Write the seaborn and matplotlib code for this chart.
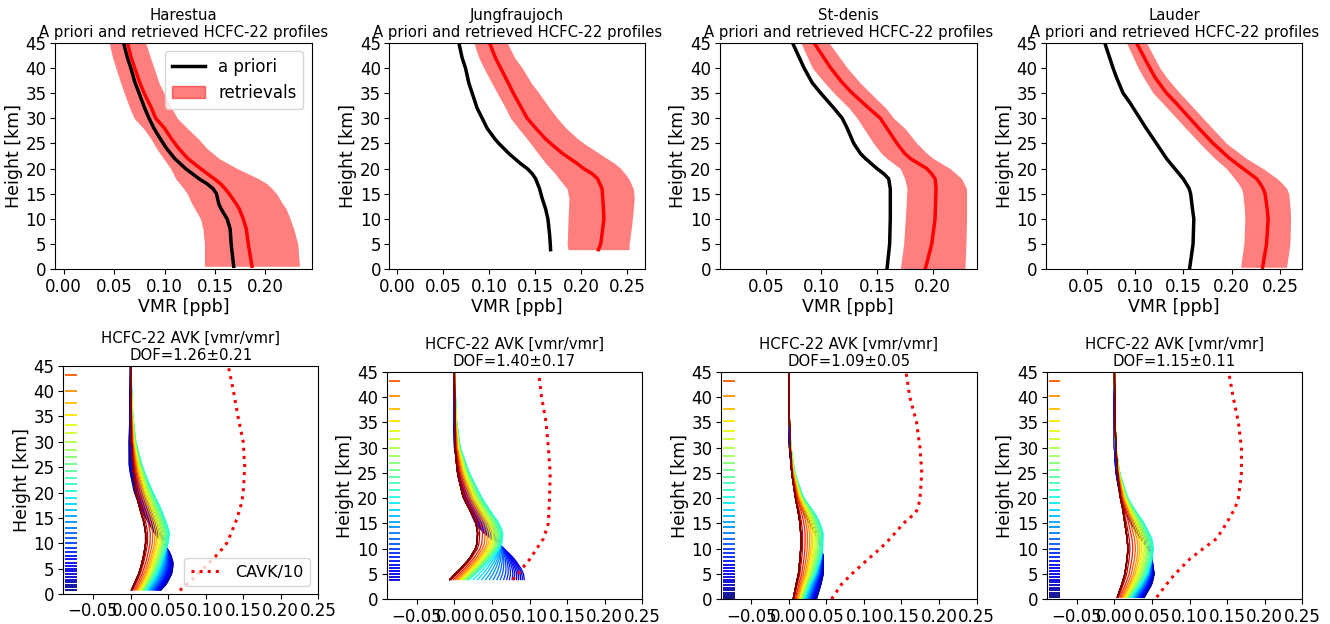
import numpy as np
import pandas as pd
import matplotlib
matplotlib.use("Agg")
import matplotlib.pyplot as plt
from matplotlib.patches import Patch
from matplotlib.lines import Line2D
from matplotlib.ticker import MultipleLocator, FuncFormatter
import seaborn as sns

plt.rcParams["font.family"] = ["DejaVu Sans"]
plt.rcParams["font.size"] = 12
plt.rcParams["xtick.major.pad"] = 2.5
plt.rcParams["ytick.major.pad"] = 2.5

stations = ["Harestua", "Jungfraujoch", "St-denis", "Lauder"]
dof_text = ["DOF=1.26\u00b10.21", "DOF=1.40\u00b10.17", "DOF=1.09\u00b10.05", "DOF=1.15\u00b10.11"]

# ---- top row: a priori / retrieved profiles (ppb) ----
harestua_z = [0.6, 5, 8, 10, 12, 13, 15, 16, 17, 18, 20, 22, 24, 26, 28, 30, 32, 35, 37, 40, 42, 45]
harestua_apriori = [0.1685, 0.166, 0.165, 0.162, 0.156, 0.1537, 0.1514, 0.148, 0.142, 0.134, 0.1208, 0.110,
                    0.102, 0.0955, 0.0895, 0.0846, 0.0803, 0.0747, 0.0708, 0.0665, 0.0632, 0.0593]
harestua_retr = [0.1866, 0.183, 0.181, 0.178, 0.174, 0.171, 0.164, 0.160, 0.1553, 0.149, 0.1356, 0.123,
                 0.114, 0.1065, 0.1000, 0.0912, 0.0870, 0.0797, 0.0755, 0.0704, 0.0670, 0.0632]
harestua_lo = [0.1395, 0.1395, 0.138, 0.1356, 0.130, 0.127, 0.1225, 0.119, 0.115, 0.111, 0.106, 0.099,
               0.092, 0.0862, 0.0790, 0.0698, 0.0655, 0.060, 0.0565, 0.0517, 0.0485, 0.045]
harestua_hi = [0.2337, 0.232, 0.228, 0.2245, 0.2205, 0.217, 0.211, 0.2065, 0.2014, 0.193, 0.172, 0.154,
               0.142, 0.133, 0.1225, 0.1126, 0.107, 0.0994, 0.0945, 0.0895, 0.0860, 0.0813]

jungfrau_z = [3.9, 5, 7, 10, 12, 14, 16, 18, 19, 20, 21, 23, 25, 26, 28, 30, 32, 35, 37, 40, 42, 45]
jungfrau_apriori = [0.167, 0.1667, 0.1659, 0.1641, 0.1616, 0.158, 0.155, 0.1507, 0.147, 0.1416, 0.1343, 0.1216,
                    0.1107, 0.106, 0.098, 0.0926, 0.0871, 0.0817, 0.0781, 0.0744, 0.0708, 0.0672]
jungfrau_retr = [0.219, 0.2215, 0.223, 0.225, 0.2245, 0.2238, 0.223, 0.218, 0.212, 0.2030, 0.196, 0.180,
                 0.167, 0.161, 0.151, 0.1416, 0.1355, 0.1264, 0.1210, 0.1126, 0.1070, 0.1006]
jungfrau_lo = [0.186, 0.185, 0.1855, 0.186, 0.1865, 0.187, 0.185, 0.176, 0.172, 0.167, 0.162, 0.1535,
               0.1452, 0.141, 0.132, 0.1235, 0.1180, 0.109, 0.103, 0.0944, 0.0890, 0.0835]
jungfrau_hi = [0.2524, 0.2524, 0.254, 0.256, 0.257, 0.258, 0.257, 0.252, 0.248, 0.2433, 0.237, 0.220,
               0.2033, 0.196, 0.184, 0.1743, 0.1660, 0.1543, 0.146, 0.136, 0.128, 0.1198]

stdenis_z = [0, 5, 10, 16, 18, 19, 20, 22, 23, 25, 28, 30, 32, 35, 37, 40, 45]
stdenis_apriori = [0.159, 0.1614, 0.162, 0.162, 0.1605, 0.156, 0.150, 0.1396, 0.1351, 0.1291, 0.1232, 0.1187, 0.1112, 0.0993, 0.0918, 0.0843, 0.0739]
stdenis_retr = [0.1934, 0.1993, 0.2023, 0.2032, 0.2023, 0.1990, 0.1949, 0.180, 0.175, 0.168, 0.159, 0.153, 0.1426, 0.1277, 0.119, 0.1082, 0.0933]
stdenis_lo = [0.171, 0.174, 0.1755, 0.177, 0.175, 0.173, 0.171, 0.159, 0.154, 0.147, 0.138, 0.1321, 0.125, 0.1112, 0.103, 0.0918, 0.0814]
stdenis_hi = [0.2292, 0.2301, 0.2307, 0.2307, 0.2262, 0.221, 0.2158, 0.2008, 0.195, 0.186, 0.175, 0.165, 0.158, 0.1441, 0.135, 0.1232, 0.1067]

lauder_z = [0.4, 5, 10, 12, 15, 16, 17, 18, 20, 22, 25, 28, 30, 33, 35, 38, 40, 45]
lauder_apriori = [0.1566, 0.16, 0.1608, 0.1594, 0.1575, 0.156, 0.153, 0.1497, 0.1411, 0.1325, 0.1221, 0.1115,
                  0.1049, 0.0950, 0.0876, 0.0810, 0.0772, 0.0686]
lauder_retr = [0.2319, 0.236, 0.2377, 0.2367, 0.2345, 0.2325, 0.2295, 0.2257, 0.2118, 0.198, 0.1808, 0.1660,
               0.1566, 0.1425, 0.1325, 0.1210, 0.1152, 0.1014]
lauder_lo = [0.2091, 0.2125, 0.2136, 0.2130, 0.2115, 0.210, 0.207, 0.203, 0.1946, 0.1825, 0.167, 0.1525,
             0.1429, 0.1285, 0.1187, 0.1090, 0.1031, 0.0911]
lauder_hi = [0.2567, 0.2602, 0.2609, 0.2605, 0.2590, 0.257, 0.2525, 0.247, 0.2325, 0.2153, 0.1946, 0.1800,
             0.1704, 0.1560, 0.1463, 0.1330, 0.1256, 0.1118]

profile_z = [harestua_z, jungfrau_z, stdenis_z, lauder_z]
profile_apriori = [harestua_apriori, jungfrau_apriori, stdenis_apriori, lauder_apriori]
profile_retr = [harestua_retr, jungfrau_retr, stdenis_retr, lauder_retr]
profile_lo = [harestua_lo, jungfrau_lo, stdenis_lo, lauder_lo]
profile_hi = [harestua_hi, jungfrau_hi, stdenis_hi, lauder_hi]
top_xlim = [(-0.0086, 0.2458), (-0.0084, 0.2697), (0.0082, 0.2398), (0.0079, 0.273)]

# ---- bottom row: averaging kernels ----
# retrieval grid (km); levels above 45 km are off-axis but still have kernels
level_km = [0.05, 0.4, 0.8, 1.3, 1.8, 2.3, 2.8, 3.35, 3.9, 4.45, 5.0, 5.6, 6.2, 6.85,
            7.5, 8.3, 9.1, 10.0, 11.0, 12.0, 13.1, 14.2, 15.3, 16.5, 17.7, 19.0,
            20.3, 21.6, 22.9, 24.2, 25.6, 27.0, 28.4, 30.0, 31.7, 33.3, 35.3, 37.6,
            40.1, 43.2, 46.6, 50.3, 54.3, 58.6, 63.2, 68.2, 73.6, 79.4, 85.7, 92.5, 100.0]
ground_km = [0.6, 3.8, 0.0, 0.3]
color_top_km = 53.0

# kernel rows read at three reference levels: lowest (blue), ~20 km (cyan), top (dark red)
cyan_t = 0.38
harestua_avk_z = [0.7, 2, 4, 6, 8, 10, 12, 14, 17, 20, 25, 30, 35, 45]
harestua_avk_blue = [0.040, 0.048, 0.055, 0.057, 0.053, 0.043, 0.032, 0.024, 0.013, 0.005, -0.002, -0.002, -0.001, 0.0]
harestua_avk_cyan = [0.020, 0.026, 0.034, 0.040, 0.045, 0.050, 0.052, 0.048, 0.040, 0.030, 0.016, 0.007, 0.003, 0.0]
harestua_avk_red = [0.001, 0.005, 0.011, 0.015, 0.018, 0.020, 0.020, 0.018, 0.012, 0.007, 0.003, 0.001, 0.0005, 0.0]

jungfrau_avk_z = [3.9, 5, 6, 8, 10, 11, 13, 15, 17, 20, 25, 30, 35, 45]
jungfrau_avk_blue = [0.093, 0.092, 0.089, 0.080, 0.066, 0.058, 0.040, 0.028, 0.022, 0.014, 0.005, 0.0, -0.001, 0.0]
jungfrau_avk_cyan = [0.020, 0.028, 0.035, 0.048, 0.059, 0.063, 0.065, 0.060, 0.050, 0.037, 0.020, 0.008, 0.003, 0.0]
jungfrau_avk_red = [-0.006, 0.001, 0.008, 0.020, 0.028, 0.030, 0.031, 0.029, 0.023, 0.012, 0.004, 0.001, 0.0005, 0.0]

stdenis_avk_z = [0.05, 3, 5, 8, 10, 13, 15, 17, 20, 25, 30, 35, 45]
stdenis_avk_blue = [0.037, 0.043, 0.046, 0.046, 0.044, 0.035, 0.028, 0.020, 0.012, 0.004, 0.001, 0.0, 0.0]
stdenis_avk_cyan = [0.020, 0.028, 0.035, 0.042, 0.045, 0.046, 0.042, 0.035, 0.020, 0.008, 0.003, 0.001, 0.0]
stdenis_avk_red = [0.006, 0.010, 0.013, 0.015, 0.016, 0.016, 0.015, 0.013, 0.009, 0.004, 0.002, 0.001, 0.0]

lauder_avk_z = [0.4, 3, 5, 8, 10, 12, 15, 18, 20, 25, 30, 35, 45]
lauder_avk_blue = [0.040, 0.050, 0.053, 0.050, 0.045, 0.035, 0.022, 0.012, 0.008, 0.002, 0.0, 0.0, 0.0]
lauder_avk_cyan = [0.022, 0.035, 0.043, 0.050, 0.052, 0.050, 0.040, 0.026, 0.018, 0.007, 0.002, 0.001, 0.0]
lauder_avk_red = [0.004, 0.010, 0.014, 0.017, 0.018, 0.017, 0.014, 0.011, 0.008, 0.004, 0.002, 0.001, 0.0]

avk_z = [harestua_avk_z, jungfrau_avk_z, stdenis_avk_z, lauder_avk_z]
avk_anchors = [
    [harestua_avk_blue, harestua_avk_cyan, harestua_avk_red],
    [jungfrau_avk_blue, jungfrau_avk_cyan, jungfrau_avk_red],
    [stdenis_avk_blue, stdenis_avk_cyan, stdenis_avk_red],
    [lauder_avk_blue, lauder_avk_cyan, lauder_avk_red],
]

# total column sensitivity / 10
harestua_cavk_z = [0.7, 3, 5, 8, 10, 12, 15, 18, 20, 25, 30, 35, 40, 45]
harestua_cavk = [0.0656, 0.083, 0.0967, 0.117, 0.128, 0.134, 0.142, 0.148, 0.150, 0.152, 0.150, 0.143, 0.137, 0.130]
jungfrau_cavk_z = [3.9, 5, 6, 8, 10, 12, 15, 20, 25, 30, 35, 40, 45]
jungfrau_cavk = [0.0775, 0.085, 0.0896, 0.1007, 0.1096, 0.1185, 0.125, 0.1266, 0.1275, 0.125, 0.122, 0.116, 0.112]
stdenis_cavk_z = [0.05, 3, 5, 8, 10, 12, 15, 17, 18, 20, 25, 30, 35, 40, 45]
stdenis_cavk = [0.057, 0.0705, 0.0838, 0.106, 0.1215, 0.135, 0.1525, 0.168, 0.172, 0.1746, 0.177, 0.1746, 0.170, 0.161, 0.156]
lauder_cavk_z = [0.4, 3, 5, 8, 10, 12, 15, 18, 20, 25, 30, 35, 40, 45]
lauder_cavk = [0.0563, 0.0696, 0.0807, 0.1006, 0.118, 0.136, 0.149, 0.1605, 0.165, 0.169, 0.169, 0.165, 0.158, 0.152]
cavk_z = [harestua_cavk_z, jungfrau_cavk_z, stdenis_cavk_z, lauder_cavk_z]
cavk_vals = [harestua_cavk, jungfrau_cavk, stdenis_cavk, lauder_cavk]

# ---- layout (pixel boxes: left, right, top, bottom) ----
W, H = 1330, 624
top_boxes = [(55, 311.7, 42.7, 269.3), (389.3, 645, 42.7, 269.3),
             (719.5, 976.7, 42.7, 269.3), (1046, 1302.3, 42.7, 269.3)]
bot_boxes = [(63, 318.3, 365.7, 594), (386.7, 642.3, 371.7, 599.3),
             (721, 976.7, 371.7, 599.3), (1046.7, 1302.3, 371.7, 599.3)]


def box(b):
    l, r, t, bt = b
    return [l / W, 1 - bt / H, (r - l) / W, (bt - t) / H]


fmt = FuncFormatter(lambda v, p: f"{v:.2f}".replace("-", "\u2212"))

fig = plt.figure(figsize=(13.3, 6.24), dpi=100)
cmap = plt.cm.jet
levels_all = np.array(level_km)
title_kw = dict(fontsize=10.7, pad=4, linespacing=1.2)

for i, name in enumerate(stations):
    # top: profiles
    ax = fig.add_axes(box(top_boxes[i]))
    z = np.array(profile_z[i])
    ax.fill_betweenx(z, profile_lo[i], profile_hi[i], color="red", alpha=0.5, lw=0)
    sns.lineplot(x=profile_apriori[i], y=z, sort=False, estimator=None, color="black", lw=2.5, ax=ax)
    sns.lineplot(x=profile_retr[i], y=z, sort=False, estimator=None, color="red", lw=2.5, ax=ax)
    ax.set_xlim(*top_xlim[i])
    ax.xaxis.set_major_locator(MultipleLocator(0.05))
    ax.xaxis.set_major_formatter(fmt)
    ax.set_ylim(0, 45)
    ax.set_yticks(range(0, 46, 5))
    ax.set_xlabel("VMR [ppb]", fontsize=12.5, labelpad=2)
    ax.set_ylabel("Height [km]", fontsize=12.5, labelpad=2)
    ax.set_title(f"{name}\nA priori and retrieved HCFC-22 profiles", **title_kw)
    if i == 0:
        handles = [Line2D([0], [0], color="black", lw=2.5),
                   Patch(facecolor="red", alpha=0.5, edgecolor="red")]
        ax.legend(handles, ["a priori", "retrievals"], loc="upper right", fontsize=12)

    # bottom: averaging kernels
    ax = fig.add_axes(box(bot_boxes[i]))
    lev = levels_all[levels_all >= ground_km[i]]
    tnorm = np.clip(lev / color_top_km, 0, 1)
    anchor_t = [tnorm[0], cyan_t, 1.0]
    anchors = [np.interp(lev, avk_z[i], a) for a in avk_anchors[i]]
    rows = []
    for k, zk in enumerate(lev):
        t = tnorm[k]
        if t <= anchor_t[1]:
            w = (t - anchor_t[0]) / (anchor_t[1] - anchor_t[0])
            row = (1 - w) * anchors[0] + w * anchors[1]
        else:
            w = (t - anchor_t[1]) / (anchor_t[2] - anchor_t[1])
            row = (1 - w) * anchors[1] + w * anchors[2]
        rows.append(pd.DataFrame({"avk": row, "z": lev, "level": zk}))
    df = pd.concat(rows, ignore_index=True)
    pal = {zk: cmap(tk) for zk, tk in zip(lev, tnorm)}
    sns.lineplot(data=df, x="avk", y="z", hue="level", palette=pal,
                 units="level", estimator=None, sort=False, legend=False, lw=0.9, ax=ax)
    ax.hlines(lev, -0.087, -0.072, colors=cmap(tnorm), lw=1.3)
    sns.lineplot(x=cavk_vals[i], y=cavk_z[i], sort=False, estimator=None, color="red",
                 lw=2.2, ls=":", ax=ax, label="CAVK/10" if i == 0 else None)
    ax.set_ylim(0, 45)
    ax.set_yticks(range(0, 46, 5))
    ax.xaxis.set_major_locator(MultipleLocator(0.05))
    ax.xaxis.set_major_formatter(fmt)
    ax.set_xlim(-0.09, 0.25)
    ax.set_xlabel("")
    ax.set_ylabel("Height [km]", fontsize=12.5, labelpad=2)
    ax.set_title(f"HCFC-22 AVK [vmr/vmr]\n{dof_text[i]}", **title_kw)
    if i == 0:
        ax.legend(loc="lower right", fontsize=11.5)
    elif ax.get_legend() is not None:
        ax.get_legend().remove()

fig.savefig("out.png", dpi=100)
